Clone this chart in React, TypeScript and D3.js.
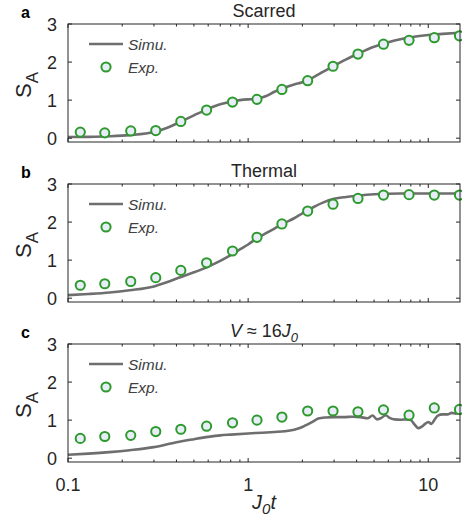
import React from "react";
import * as d3 from "d3";

// Time points of the measured entropy (J0 t)
const tExp = [0.117, 0.160, 0.223, 0.307, 0.423, 0.588, 0.819, 1.12, 1.54, 2.14, 2.96, 4.07, 5.64, 7.82, 10.8, 14.9];
// Measured entanglement entropy S_A
const expScarred = [0.16, 0.14, 0.19, 0.20, 0.44, 0.74, 0.95, 1.02, 1.28, 1.51, 1.89, 2.21, 2.47, 2.57, 2.64, 2.69];
const expThermal = [0.34, 0.38, 0.44, 0.54, 0.73, 0.93, 1.24, 1.60, 1.95, 2.29, 2.47, 2.62, 2.71, 2.72, 2.71, 2.71];
const expV16 = [0.52, 0.57, 0.60, 0.70, 0.76, 0.84, 0.93, 1.00, 1.08, 1.24, 1.24, 1.22, 1.27, 1.13, 1.32, 1.28];

// Simulated curves
const tSim = [0.1, 0.13, 0.17, 0.22, 0.3, 0.35, 0.42, 0.5, 0.6, 0.7, 0.8, 0.9, 1.0, 1.1, 1.25, 1.4, 1.6, 1.8, 2.0, 2.3, 2.6, 3.0, 3.5, 4.0, 5.0, 6.0, 7.0, 8.0, 10, 12, 15];
const simScarred = [0.03, 0.035, 0.05, 0.08, 0.16, 0.26, 0.43, 0.6, 0.77, 0.89, 0.96, 1.0, 1.02, 1.03, 1.1, 1.22, 1.33, 1.41, 1.47, 1.6, 1.74, 1.9, 2.07, 2.2, 2.4, 2.52, 2.6, 2.65, 2.71, 2.74, 2.77];
const simThermal = [0.08, 0.11, 0.15, 0.21, 0.31, 0.41, 0.55, 0.68, 0.83, 0.98, 1.13, 1.28, 1.41, 1.55, 1.7, 1.83, 1.98, 2.1, 2.23, 2.39, 2.51, 2.61, 2.66, 2.69, 2.73, 2.745, 2.75, 2.75, 2.75, 2.75, 2.75];

const tSimV = [0.1, 0.13, 0.17, 0.22, 0.3, 0.4, 0.5, 0.6, 0.7, 0.8, 1.0, 1.2, 1.4, 1.6, 1.8, 1.9, 2.0, 2.14, 2.3, 2.45, 2.7, 3.0, 3.4, 3.8, 4.2, 4.6, 4.9, 5.2, 5.5, 5.8, 6.1, 6.5, 7.0, 7.6, 8.0, 8.4, 8.8, 9.2, 9.6, 10.0, 10.4, 10.8, 11.3, 12.0, 12.8, 13.5, 14.2, 15];
const simV16 = [0.09, 0.12, 0.16, 0.21, 0.29, 0.42, 0.5, 0.56, 0.6, 0.62, 0.65, 0.67, 0.69, 0.71, 0.75, 0.78, 0.82, 0.89, 0.97, 1.04, 1.07, 1.08, 1.08, 1.09, 1.08, 1.05, 1.12, 1.02, 1.06, 1.13, 1.06, 1.02, 1.01, 1.02, 1.0, 0.88, 0.79, 0.83, 0.9, 0.95, 0.9, 1.0, 1.12, 1.15, 1.15, 1.19, 1.17, 1.22];

const xTicks = [0.1, 1, 10];
const xMinor = [0.2, 0.3, 0.4, 0.5, 0.6, 0.7, 0.8, 0.9, 2, 3, 4, 5, 6, 7, 8, 9];
const yTicks = [0, 1, 2, 3];

const W = 462;
const H = 523;
const left = 68;
const right = 460;
const panelH = 118;
const panelTops = [24, 184, 344];

const AXIS = "#262626";
const LINE = "#6e6e6e";
const GREEN = "#2e9a2e";
const FILL = "#e8eef7";
const FONT = "'Liberation Sans', Arial, Helvetica, sans-serif";

const x = d3.scaleLog().domain([0.1, 15]).range([left, right]);

type PanelProps = {
  top: number;
  letter: string;
  title: React.ReactNode;
  tSimData: number[];
  sim: number[];
  exp: number[];
  showXLabels: boolean;
};

function Panel({ top, letter, title, tSimData, sim, exp, showXLabels }: PanelProps) {
  const y = d3.scaleLinear().domain([-0.1, 3]).range([top + panelH, top]);
  const bottom = top + panelH;
  const line = d3
    .line<number>()
    .x((_, i) => x(tSimData[i]))
    .y((d) => y(d))
    .curve(d3.curveMonotoneX);
  const simPath = line(sim) || "";
  const cx = (left + right) / 2;

  return (
    <g>
      {/* panel letter */}
      <text x={21} y={top - 6} fontSize={16} fontWeight="bold" fill="#000" fontFamily={FONT}>
        {letter}
      </text>
      {/* title */}
      <text x={cx} y={top - 7} fontSize={18} fill={AXIS} textAnchor="middle" fontFamily={FONT}>
        {title}
      </text>
      {/* y label */}
      <text
        transform={`translate(31, ${top + panelH / 2 + 2}) rotate(-90)`}
        fontSize={22}
        fill={AXIS}
        textAnchor="middle"
        fontFamily={FONT}
      >
        S<tspan fontSize={17} dy={7}>A</tspan>
      </text>

      <clipPath id={`clip-${letter}`}>
        <rect x={left} y={top} width={right - left} height={panelH} />
      </clipPath>

      {/* simulation */}
      <path d={simPath} fill="none" stroke={LINE} strokeWidth={2.6} clipPath={`url(#clip-${letter})`} />

      {/* experiment */}
      {exp.map((v, i) => (
        <circle key={i} cx={x(tExp[i])} cy={y(v)} r={4.6} fill={FILL} stroke={GREEN} strokeWidth={2} />
      ))}

      {/* axes box */}
      <rect x={left} y={top} width={right - left} height={panelH} fill="none" stroke={AXIS} strokeWidth={1} />

      {/* x ticks, bottom and top */}
      {xTicks.map((t) => (
        <g key={`xt${t}`}>
          <line x1={x(t)} x2={x(t)} y1={bottom} y2={bottom - 4} stroke={AXIS} />
          <line x1={x(t)} x2={x(t)} y1={top} y2={top + 4} stroke={AXIS} />
        </g>
      ))}
      {xMinor.map((t) => (
        <g key={`xm${t}`}>
          <line x1={x(t)} x2={x(t)} y1={bottom} y2={bottom - 2.5} stroke={AXIS} />
          <line x1={x(t)} x2={x(t)} y1={top} y2={top + 2.5} stroke={AXIS} />
        </g>
      ))}

      {/* y ticks, left and right */}
      {yTicks.map((v) => (
        <g key={`yt${v}`}>
          <line x1={left} x2={left + 4} y1={y(v)} y2={y(v)} stroke={AXIS} />
          <line x1={right} x2={right - 4} y1={y(v)} y2={y(v)} stroke={AXIS} />
          <text x={57} y={y(v) + 6.5} fontSize={18} fill={AXIS} textAnchor="end" fontFamily={FONT}>
            {v}
          </text>
        </g>
      ))}

      {showXLabels &&
        xTicks.map((t) => (
          <text key={`xl${t}`} x={x(t)} y={491} fontSize={18} fill={AXIS} textAnchor="middle" fontFamily={FONT}>
            {t}
          </text>
        ))}

      {/* legend */}
      <line x1={89} x2={123} y1={top + 20} y2={top + 20} stroke={LINE} strokeWidth={2.6} />
      <text x={128} y={top + 25.5} fontSize={15.5} fontStyle="italic" fill="#404040" fontFamily={FONT}>
        Simu.
      </text>
      <circle cx={106} cy={top + 43} r={4.6} fill={FILL} stroke={GREEN} strokeWidth={2} />
      <text x={128} y={top + 48.5} fontSize={15.5} fontStyle="italic" fill="#404040" fontFamily={FONT}>
        Exp.
      </text>
    </g>
  );
}

export default function App() {
  return (
    <svg
      width={W}
      height={H}
      style={{ position: "absolute", left: 0, top: 0, background: "#fff" }}
      fontFamily={FONT}
    >
      <Panel top={panelTops[0]} letter="a" title="Scarred" tSimData={tSim} sim={simScarred} exp={expScarred} showXLabels={false} />
      <Panel top={panelTops[1]} letter="b" title="Thermal" tSimData={tSim} sim={simThermal} exp={expThermal} showXLabels={false} />
      <Panel
        top={panelTops[2]}
        letter="c"
        title={
          <>
            <tspan fontStyle="italic">V</tspan>
            <tspan> ≈ 16</tspan>
            <tspan fontStyle="italic">J</tspan>
            <tspan fontStyle="italic" fontSize={13} dy={5}>0</tspan>
          </>
        }
        tSimData={tSimV}
        sim={simV16}
        exp={expV16}
        showXLabels={true}
      />
      {/* x label */}
      <text x={(left + right) / 2} y={509} fontSize={20} fill={AXIS} textAnchor="middle" fontStyle="italic" fontFamily={FONT}>
        J<tspan fontSize={15} dy={5}>0</tspan>
        <tspan dy={-5}>t</tspan>
      </text>
    </svg>
  );
}
